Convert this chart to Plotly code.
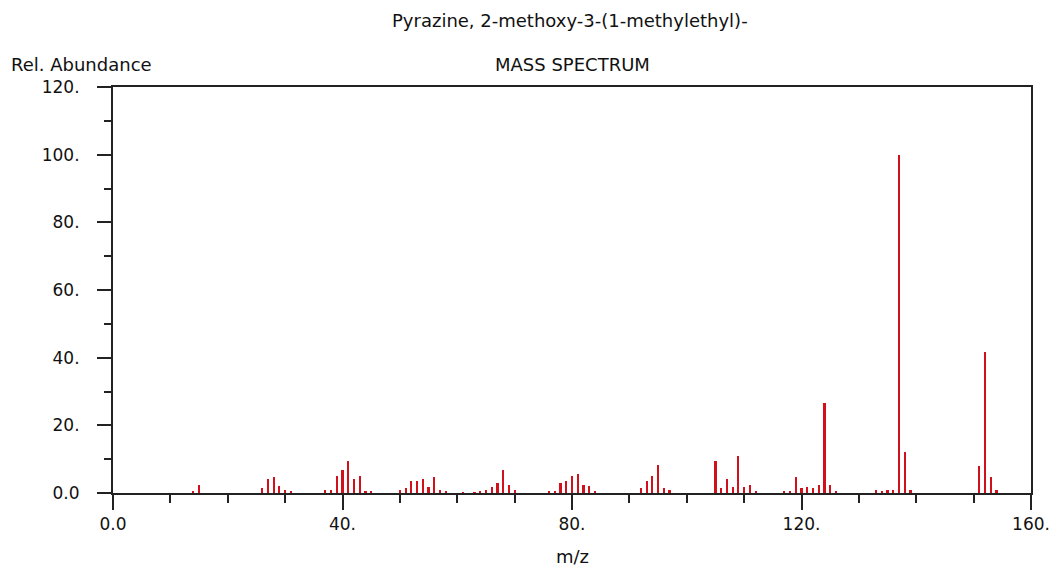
import plotly.graph_objects as go

mz = [14, 15, 26, 27, 28, 29, 30, 31, 37, 38, 39, 40, 41, 42, 43, 44, 45,
      50, 51, 52, 53, 54, 55, 56, 57, 58, 61, 63, 64, 65, 66, 67, 68, 69, 70,
      76, 77, 78, 79, 80, 81, 82, 83, 84, 92, 93, 94, 95, 96, 97,
      105, 106, 107, 108, 109, 110, 111, 112, 117, 118, 119, 120, 121, 122,
      123, 124, 125, 126, 133, 134, 135, 136, 137, 138, 139, 151, 152, 153, 154]
abundance = [0.3, 2.5, 1.5, 4.1, 4.6, 2.0, 0.8, 0.3, 0.8, 0.8, 5.1, 6.8, 9.4, 4.1, 5.1, 0.3, 0.3,
             0.8, 1.5, 3.6, 3.6, 4.1, 1.9, 4.6, 0.8, 0.3, 0.2, 0.2, 0.3, 0.8, 1.9, 3.0, 6.8, 2.5, 0.8,
             0.3, 0.3, 3.0, 3.6, 5.1, 5.7, 2.5, 2.0, 0.3, 1.4, 3.6, 5.1, 8.4, 1.4, 0.8,
             9.4, 1.4, 4.1, 1.9, 11.0, 1.9, 2.5, 0.3, 0.3, 0.3, 4.6, 1.4, 1.9, 1.4,
             2.5, 26.6, 2.5, 0.3, 0.8, 0.3, 0.8, 0.8, 100.0, 12.2, 0.8, 7.9, 41.8, 4.6, 0.8]

x_ticks = [0, 40, 80, 120, 160]
x_ticktext = ["0.0", "40.", "80.", "120.", "160."]
y_ticks = [0, 20, 40, 60, 80, 100, 120]
y_ticktext = ["0.0", "20.", "40.", "60.", "80.", "100.", "120."]

title = "Pyrazine, 2-methoxy-3-(1-methylethyl)-"
subtitle = "MASS SPECTRUM"
y_label = "Rel. Abundance"
x_label = "m/z"

font_family = "DejaVu Sans, Liberation Sans, Arial, sans-serif"

# page body has an 8px margin, so the figure origin sits at (8, 8)
OFF = 8
W, H = 1059 - OFF, 572 - OFF
ML, MR, MT, MB = 113 - OFF, 28, 87 - OFF, 79
plot_w = W - ML - MR
plot_h = H - MT - MB


def px_x(p):
    return (p - OFF - ML) / plot_w


def px_y(p):
    return (H - MB - (p - OFF)) / plot_h


fig = go.Figure()
fig.add_trace(go.Bar(x=mz, y=abundance, width=0.38,
                     marker=dict(color="#d0101a", line=dict(width=0)),
                     hoverinfo="x+y"))

axis_common = dict(showgrid=False, zeroline=False, showline=True, linecolor="#222222",
                   linewidth=2, mirror=True, ticks="outside", tickcolor="#222222",
                   tickwidth=2, automargin=False,
                   tickfont=dict(family=font_family, size=17, color="#111111"))

fig.update_xaxes(range=[0, 160], tickvals=x_ticks, ticktext=x_ticktext, ticklen=15,
                 minor=dict(dtick=10, tick0=0, ticklen=8, ticks="outside",
                            tickcolor="#222222", tickwidth=2, showgrid=False),
                 **axis_common)
fig.update_yaxes(range=[0, 120], tickvals=y_ticks, ticktext=y_ticktext, ticklen=14,
                 ticklabelstandoff=14,
                 minor=dict(dtick=10, tick0=0, ticklen=7, ticks="outside",
                            tickcolor="#222222", tickwidth=2, showgrid=False),
                 **axis_common)

ann_font = dict(family=font_family, size=18, color="#111111")
fig.update_layout(
    width=W, height=H,
    margin=dict(l=ML, r=MR, t=MT, b=MB, autoexpand=False),
    plot_bgcolor="white", paper_bgcolor="white",
    showlegend=False, bargap=0,
    font=dict(family=font_family, size=18, color="#111111"),
    annotations=[
        dict(text=title, x=px_x(570), y=px_y(20), xref="paper", yref="paper",
             showarrow=False, xanchor="center", yanchor="middle", font=ann_font),
        dict(text=subtitle, x=px_x(572), y=px_y(65), xref="paper", yref="paper",
             showarrow=False, xanchor="center", yanchor="middle", font=ann_font),
        dict(text=y_label, x=px_x(9), y=px_y(65), xref="paper", yref="paper",
             showarrow=False, xanchor="left", yanchor="middle", font=ann_font),
        dict(text=x_label, x=px_x(572), y=px_y(556), xref="paper", yref="paper",
             showarrow=False, xanchor="center", yanchor="middle", font=ann_font),
    ],
)

fig.write_html("out.html")
